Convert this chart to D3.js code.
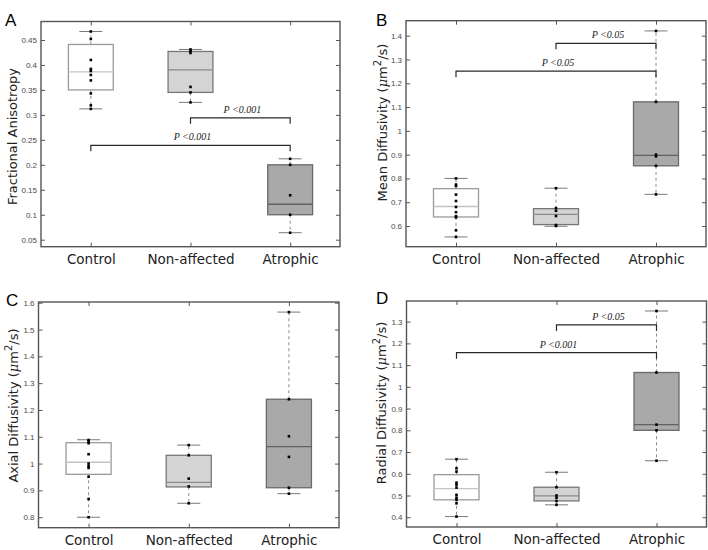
<!DOCTYPE html>
<html><head><meta charset="utf-8">
<script src="https://cdn.jsdelivr.net/npm/d3@7"></script>
<style>
html,body{margin:0;padding:0;background:#fff;}
svg{display:block;}
</style></head>
<body>
<svg id="chart" width="708" height="550"></svg>
<script>
const categories = ["Control", "Non-affected", "Atrophic"];

// Box statistics per group: [whisker low, Q1, median, Q3, whisker high]
const faStats = [[0.312, 0.350, 0.386, 0.441, 0.467], [0.325, 0.345, 0.390, 0.427, 0.431], [0.064, 0.100, 0.121, 0.200, 0.212]];
const faPoints = [[0.467, 0.452, 0.410, 0.392, 0.388, 0.380, 0.369, 0.343, 0.319, 0.312], [0.431, 0.428, 0.424, 0.356, 0.345, 0.325], [0.212, 0.200, 0.139, 0.100, 0.064]];
const faTicks = [0.05, 0.1, 0.15, 0.2, 0.25, 0.3, 0.35, 0.4, 0.45];
const faSigPairs = [[1, 2], [0, 2]];
const faSigLevels = [0.294, 0.239];
const faSigLabels = ["P <0.001", "P <0.001"];

const mdStats = [[0.554, 0.638, 0.682, 0.757, 0.800], [0.599, 0.606, 0.649, 0.673, 0.759], [0.733, 0.853, 0.897, 1.122, 1.420]];
const mdPoints = [[0.800, 0.774, 0.768, 0.732, 0.705, 0.680, 0.658, 0.641, 0.636, 0.582, 0.554], [0.759, 0.675, 0.664, 0.642, 0.604, 0.600], [1.420, 1.122, 0.900, 0.893, 0.853, 0.733]];
const mdTicks = [0.6, 0.7, 0.8, 0.9, 1, 1.1, 1.2, 1.3, 1.4];
const mdSigPairs = [[1, 2], [0, 2]];
const mdSigLevels = [1.368, 1.251];
const mdSigLabels = ["P <0.05", "P <0.05"];

const adStats = [[0.800, 0.960, 1.005, 1.078, 1.089], [0.852, 0.913, 0.930, 1.031, 1.069], [0.888, 0.910, 1.063, 1.240, 1.565]];
const adPoints = [[1.088, 1.083, 1.076, 1.035, 1.000, 0.990, 0.984, 0.951, 0.868, 0.800], [1.069, 1.031, 0.944, 0.915, 0.852], [1.565, 1.240, 1.102, 1.025, 0.910, 0.888]];
const adTicks = [0.8, 0.9, 1, 1.1, 1.2, 1.3, 1.4, 1.5, 1.6];
const adSigPairs = [];
const adSigLevels = [];
const adSigLabels = [];

const rdStats = [[0.403, 0.480, 0.532, 0.596, 0.667], [0.457, 0.475, 0.498, 0.538, 0.607], [0.660, 0.800, 0.826, 1.066, 1.349]];
const rdPoints = [[0.667, 0.625, 0.610, 0.559, 0.549, 0.536, 0.503, 0.490, 0.480, 0.464, 0.403], [0.607, 0.538, 0.500, 0.490, 0.475, 0.457], [1.349, 1.066, 0.826, 0.800, 0.660]];
const rdTicks = [0.4, 0.5, 0.6, 0.7, 0.8, 0.9, 1, 1.1, 1.2, 1.3];
const rdSigPairs = [[1, 2], [0, 2]];
const rdSigLevels = [1.285, 1.157];
const rdSigLabels = ["P <0.05", "P <0.001"];

// layout / styling
const boxFill = ["#ffffff", "#d4d4d4", "#a9a9a9"];
const boxEdge = ["#9a9a9a", "#777777", "#6a6a6a"];
const medianColor = ["#c4c4c4", "#8a8a8a", "#626262"];

const panels = [
  {letter: "A", title: "Fractional Anisotropy", unit: false, stats: faStats, points: faPoints, ticks: faTicks,
   sigPairs: faSigPairs, sigLevels: faSigLevels, sigLabels: faSigLabels,
   left: 41, right: 340, top: 21.5, bottom: 246.7, domain: [0.036, 0.487], titleX: 16.5, titleY: 136.5, letterX: 5, letterY: 26},
  {letter: "B", title: "Mean Diffusivity ", unit: true, stats: mdStats, points: mdPoints, ticks: mdTicks,
   sigPairs: mdSigPairs, sigLevels: mdSigLevels, sigLabels: mdSigLabels,
   left: 406, right: 706, top: 20.7, bottom: 246.7, domain: [0.513, 1.463], titleX: 386.5, titleY: 122.5, letterX: 376, letterY: 26},
  {letter: "C", title: "Axial Diffusivity ", unit: true, stats: adStats, points: adPoints, ticks: adTicks,
   sigPairs: adSigPairs, sigLevels: adSigLevels, sigLabels: adSigLabels,
   left: 38.5, right: 339, top: 302, bottom: 527.7, domain: [0.761, 1.6026], titleX: 17.5, titleY: 405.5, letterX: 6, letterY: 306},
  {letter: "D", title: "Radial Diffusivity ", unit: true, stats: rdStats, points: rdPoints, ticks: rdTicks,
   sigPairs: rdSigPairs, sigLevels: rdSigLevels, sigLabels: rdSigLabels,
   left: 406.5, right: 706.5, top: 301, bottom: 527, domain: [0.355, 1.395], titleX: 386, titleY: 403, letterX: 376, letterY: 304}
];

const svg = d3.select("#chart");
const sansLabel = "'DejaVu Sans', sans-serif";
const sansTick = "'Liberation Sans', Arial, sans-serif";

panels.forEach(p => {
  const g = svg.append("g");
  const x = d3.scalePoint().domain(categories).range([p.left, p.right]).padding(0.5);
  const y = d3.scaleLinear().domain(p.domain).range([p.bottom, p.top]);
  const step = x.step();
  const boxHalf = 0.225 * step;
  const capHalf = 0.115 * step;

  g.append("rect").attr("x", p.left).attr("y", p.top)
    .attr("width", p.right - p.left).attr("height", p.bottom - p.top)
    .attr("fill", "#fff");

  categories.forEach((c, i) => {
    const s = p.stats[i];
    const cx = x(c);
    const bg = g.append("g");
    bg.append("line").attr("x1", cx).attr("x2", cx).attr("y1", y(s[3])).attr("y2", y(s[4]))
      .attr("stroke", "#8c8c8c").attr("stroke-width", 1).attr("stroke-dasharray", "3,3");
    bg.append("line").attr("x1", cx).attr("x2", cx).attr("y1", y(s[1])).attr("y2", y(s[0]))
      .attr("stroke", "#8c8c8c").attr("stroke-width", 1).attr("stroke-dasharray", "3,3");
    [s[0], s[4]].forEach(v => {
      bg.append("line").attr("x1", cx - capHalf).attr("x2", cx + capHalf).attr("y1", y(v)).attr("y2", y(v))
        .attr("stroke", "#7a7a7a").attr("stroke-width", 1);
    });
    bg.append("rect").attr("x", cx - boxHalf).attr("y", y(s[3]))
      .attr("width", 2 * boxHalf).attr("height", y(s[1]) - y(s[3]))
      .attr("fill", boxFill[i]).attr("stroke", boxEdge[i]).attr("stroke-width", 1.3);
    bg.append("line").attr("x1", cx - boxHalf).attr("x2", cx + boxHalf).attr("y1", y(s[2])).attr("y2", y(s[2]))
      .attr("stroke", medianColor[i]).attr("stroke-width", 1.3);
    bg.selectAll("rect.pt").data(p.points[i]).enter().append("rect").attr("class", "pt")
      .attr("x", cx - 1.3).attr("y", d => y(d) - 1.3).attr("width", 2.6).attr("height", 2.6)
      .attr("fill", "#000");
  });

  p.sigPairs.forEach((pair, k) => {
    const x1 = x(categories[pair[0]]), x2 = x(categories[pair[1]]);
    const yy = y(p.sigLevels[k]);
    g.append("path")
      .attr("d", `M${x1},${yy + 6}V${yy}H${x2}V${yy + 6}`)
      .attr("fill", "none").attr("stroke", "#2a2a2a").attr("stroke-width", 1.2);
    g.append("text").attr("x", (x1 + x2) / 2 + 2).attr("y", yy - 5)
      .attr("text-anchor", "middle")
      .style("font-family", "'Liberation Serif', 'Times New Roman', serif")
      .style("font-style", "italic").style("font-size", "10px").attr("fill", "#222")
      .text(p.sigLabels[k]);
  });

  const axL = d3.axisLeft(y).tickValues(p.ticks).tickSize(-4).tickPadding(4).tickFormat(d => String(d));
  const axR = d3.axisRight(y).tickValues(p.ticks).tickSize(-4).tickFormat("");
  const axB = d3.axisBottom(x).tickSize(-4).tickPadding(7.5);
  const axT = d3.axisTop(x).tickSize(-4).tickFormat("");

  const gl = g.append("g").attr("transform", `translate(${p.left},0)`).call(axL);
  const gr = g.append("g").attr("transform", `translate(${p.right},0)`).call(axR);
  const gb = g.append("g").attr("transform", `translate(0,${p.bottom})`).call(axB);
  const gt = g.append("g").attr("transform", `translate(0,${p.top})`).call(axT);
  [gl, gr, gb, gt].forEach(a => {
    a.select(".domain").remove();
    a.selectAll(".tick line").attr("stroke", "#555").attr("stroke-width", 1);
  });
  gl.selectAll("text").style("font-family", sansTick).style("font-size", "8px").attr("fill", "#4a4a4a");
  gb.selectAll("text").style("font-family", sansLabel).style("font-size", "13.5px").attr("fill", "#222");

  g.append("rect").attr("x", p.left).attr("y", p.top)
    .attr("width", p.right - p.left).attr("height", p.bottom - p.top)
    .attr("fill", "none").attr("stroke", "#555").attr("stroke-width", 1.4);

  const t = g.append("text")
    .attr("transform", `translate(${p.titleX},${p.titleY}) rotate(-90)`)
    .attr("text-anchor", "middle")
    .style("font-family", sansLabel).style("font-size", "13px").attr("fill", "#222");
  t.append("tspan").text(p.title);
  if (p.unit) {
    t.append("tspan").text("(");
    t.append("tspan").style("font-style", "italic").style("font-family", "'DejaVu Serif', serif").text("μ");
    t.append("tspan").text("m");
    t.append("tspan").attr("dy", -6).style("font-size", "10px").text("2");
    t.append("tspan").attr("dy", 6).text("/s)");
  }

  g.append("text").attr("x", p.letterX).attr("y", p.letterY)
    .style("font-family", sansTick).style("font-size", "17px").attr("fill", "#000")
    .text(p.letter);
});
</script>
</body></html>
